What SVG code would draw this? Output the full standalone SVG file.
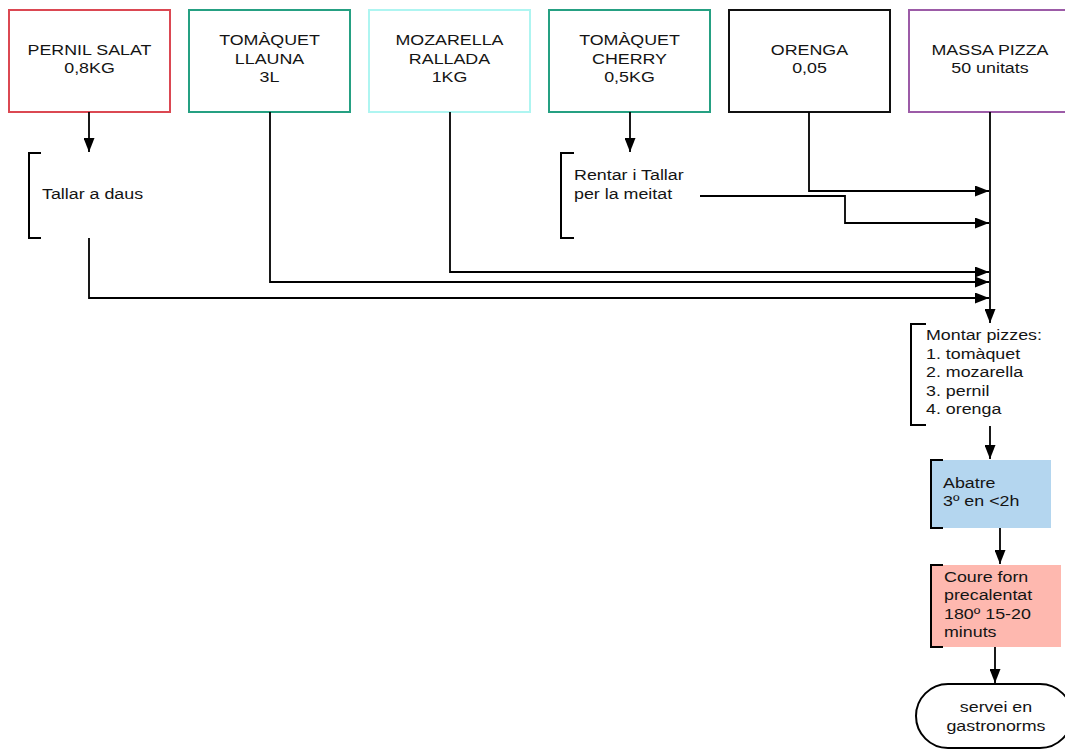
<svg xmlns="http://www.w3.org/2000/svg" width="1065" height="749" viewBox="0 0 1065 749">
  <style>
    text { font-family: "Liberation Sans", Arial, sans-serif; font-size: 15px; fill: #141414; }
    .c { text-anchor: middle; transform-box: fill-box; transform-origin: center; transform: scaleX(1.19); }
    .l { text-anchor: start; transform-box: fill-box; transform-origin: left center; transform: scaleX(1.19); }
    .box { fill: #ffffff; stroke-width: 2; }
    .wire { fill: none; stroke: #000; stroke-width: 1.8; }
    .brk { fill: none; stroke: #000; stroke-width: 2; }
  </style>
  <defs>
    <marker id="ah" markerUnits="userSpaceOnUse" markerWidth="15" markerHeight="11" refX="14" refY="5.5" orient="auto">
      <path d="M0,0 L14,5.5 L0,11 z" fill="#000"/>
    </marker>
  </defs>
  <rect width="1065" height="749" fill="#ffffff"/>

  <!-- ingredients -->
  <g id="pernil">
    <rect class="box" x="9" y="10" width="161" height="102" stroke="#db4852"/>
    <text class="c" x="89.5" y="55">PERNIL SALAT</text>
    <text class="c" x="89.5" y="73.5">0,8KG</text>
  </g>
  <g id="tomaquet-llauna">
    <rect class="box" x="189" y="10" width="161" height="102" stroke="#25a082"/>
    <text class="c" x="269.5" y="45.5">TOMÀQUET</text>
    <text class="c" x="269.5" y="64">LLAUNA</text>
    <text class="c" x="269.5" y="82.5">3L</text>
  </g>
  <g id="mozarella">
    <rect class="box" x="369" y="10" width="161" height="102" stroke="#aef5f1"/>
    <text class="c" x="449.5" y="45.5">MOZARELLA</text>
    <text class="c" x="449.5" y="64">RALLADA</text>
    <text class="c" x="449.5" y="82.5">1KG</text>
  </g>
  <g id="tomaquet-cherry">
    <rect class="box" x="549" y="10" width="161" height="102" stroke="#25a082"/>
    <text class="c" x="629.5" y="45.5">TOMÀQUET</text>
    <text class="c" x="629.5" y="64">CHERRY</text>
    <text class="c" x="629.5" y="82.5">0,5KG</text>
  </g>
  <g id="orenga">
    <rect class="box" x="729" y="10" width="161" height="102" stroke="#111111"/>
    <text class="c" x="809.5" y="55">ORENGA</text>
    <text class="c" x="809.5" y="73.5">0,05</text>
  </g>
  <g id="massa">
    <rect class="box" x="909" y="10" width="162" height="102" stroke="#9c5ba7"/>
    <text class="c" x="990" y="55">MASSA PIZZA</text>
    <text class="c" x="990" y="73.5">50 unitats</text>
  </g>

  <!-- preparation steps -->
  <g id="tallar">
    <path class="brk" d="M41,153 H29 V238 H41"/>
    <text class="l" x="42" y="199">Tallar a daus</text>
  </g>
  <g id="rentar">
    <path class="brk" d="M574,153 H561 V238 H574"/>
    <text class="l" x="574" y="180.5">Rentar i Tallar</text>
    <text class="l" x="574" y="199">per la meitat</text>
  </g>
  <g id="montar">
    <path class="brk" d="M926,324 H911 V425 H926"/>
    <text class="l" x="926" y="340.5">Montar pizzes:</text>
    <text class="l" x="926" y="359">1. tomàquet</text>
    <text class="l" x="926" y="377.5">2. mozarella</text>
    <text class="l" x="926" y="396">3. pernil</text>
    <text class="l" x="926" y="414.5">4. orenga</text>
  </g>
  <g id="abatre">
    <rect x="931" y="460" width="120" height="68" fill="#b4d6ef"/>
    <path class="brk" d="M943,460 H931 V528 H943"/>
    <text class="l" x="943" y="488">Abatre</text>
    <text class="l" x="943" y="506.5">3º en &lt;2h</text>
  </g>
  <g id="coure">
    <rect x="931" y="565" width="130" height="82" fill="#feb8af"/>
    <path class="brk" d="M943,565 H931 V647 H943"/>
    <text class="l" x="944" y="582">Coure forn</text>
    <text class="l" x="944" y="600.5">precalentat</text>
    <text class="l" x="944" y="619">180º 15-20</text>
    <text class="l" x="944" y="637.5">minuts</text>
  </g>
  <g id="servei">
    <rect x="916" y="684" width="156" height="64" rx="32" ry="32" fill="#ffffff" stroke="#000" stroke-width="2"/>
    <text class="c" x="996" y="712.5">servei en</text>
    <text class="c" x="996" y="731">gastronorms</text>
  </g>

  <!-- connectors -->
  <g id="connectors">
    <path class="wire" d="M89,112 V152" marker-end="url(#ah)"/>
    <path class="wire" d="M630,112 V152" marker-end="url(#ah)"/>
    <path class="wire" d="M809,112 V191 H989" marker-end="url(#ah)"/>
    <path class="wire" d="M700,196 H845 V223 H989" marker-end="url(#ah)"/>
    <path class="wire" d="M450,112 V272 H989" marker-end="url(#ah)"/>
    <path class="wire" d="M270,112 V282 H989" marker-end="url(#ah)"/>
    <path class="wire" d="M89,238 V298 H989" marker-end="url(#ah)"/>
    <path class="wire" d="M990,112 V323" marker-end="url(#ah)"/>
    <path class="wire" d="M990,426 V459" marker-end="url(#ah)"/>
    <path class="wire" d="M1000,528 V564" marker-end="url(#ah)"/>
    <path class="wire" d="M995,647 V683" marker-end="url(#ah)"/>
  </g>
</svg>
